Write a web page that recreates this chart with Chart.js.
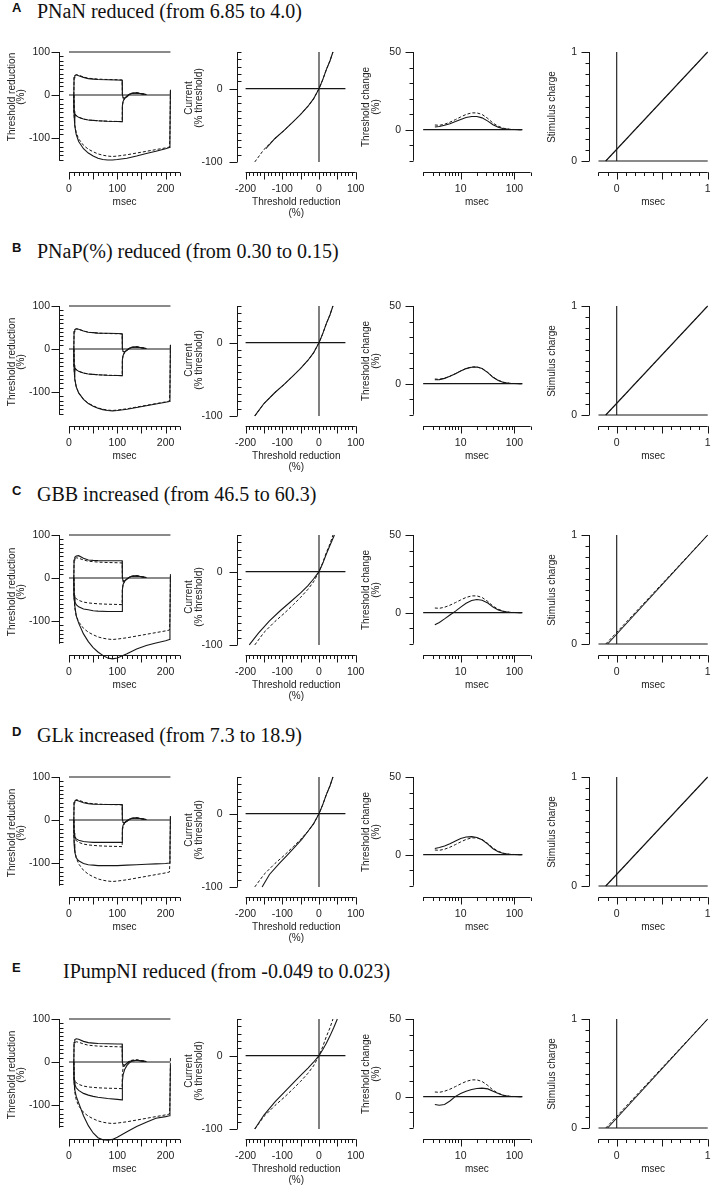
<!DOCTYPE html>
<html>
<head>
<meta charset="utf-8">
<script src="https://cdn.jsdelivr.net/npm/chart.js@4.4.1/dist/chart.umd.min.js"></script>
<style>
  html, body { margin: 0; padding: 0; background: #fff; }
  #page { position: relative; width: 720px; height: 1191px; overflow: hidden; background: #fff; }
  #page canvas { position: absolute; }
  .heading { position: absolute; left: 0; width: 720px; height: 24px; color: #111; white-space: nowrap; }
  .heading b { position: absolute; left: 12px; top: 0; line-height: 24px; font: bold 13px "Liberation Sans", Arial, sans-serif; }
  .heading span { position: absolute; top: 0; line-height: 24px; font: 20px "Liberation Serif", "Times New Roman", serif; }
</style>
</head>
<body>
<div id="page"></div>
<script>
// row headings
const rowLetters = ["A", "B", "C", "D", "E"];
const rowTitles = [
  "PNaN reduced (from 6.85 to 4.0)",
  "PNaP(%) reduced (from 0.30 to 0.15)",
  "GBB increased (from 46.5 to 60.3)",
  "GLk increased (from 7.3 to 18.9)",
  "IPumpNI reduced (from -0.049 to 0.023)",
];

// threshold electrotonus: 40% steps (100 ms) and -100% step (200 ms)
const teStepTime = [10, 10.5, 12, 15, 20, 30, 40, 50, 60, 80, 100, 110, 110.5, 112, 115, 120, 125, 130, 140, 150, 160];
const teLongTime = [10, 10.5, 12, 15, 20, 30, 40, 50, 60, 70, 80, 90, 100, 120, 140, 160, 180, 200, 208, 209, 210];
const teMarkTime = [0, 210];
const teMarkLevel = [100, 100];
const teBaseLevel = [0, 0];

const normD40 = [0, 40, 45, 47, 46, 42, 39, 38, 37, 36, 35.5, 35, 2, -6, -7, -3, 1, 3.5, 4.5, 3, 1];
const normH40 = [0, -38, -44, -48, -52, -56, -58, -59, -60, -61, -61.5, -62, -25, -15, -8, -2, 2, 4, 5, 3, 1];
const normH100 = [0, -45, -70, -88, -102, -117, -126, -132, -137, -140, -142, -143, -142, -139, -135, -131, -127, -123, -121, -95, 10];

const aD40 = [0, 40, 45, 47, 45, 41, 38, 37, 36, 35.5, 35, 34.5, 2, -7, -8, -4, 1, 3.5, 4.5, 3, 1];
const aH40 = [0, -38, -44, -48, -52, -56, -58, -59, -60, -61, -61.5, -62, -25, -15, -8, -2, 2, 4, 5, 3, 1];
const aH100 = [0, -45, -72, -92, -108, -125, -135, -142, -147, -150, -151, -151, -150, -147, -142, -136, -131, -125, -122, -95, 12];

const bD40 = [0, 40, 45, 47, 46, 42, 39, 38, 37, 36.5, 36, 35.5, 2, -6, -7, -3, 1, 3.5, 4.5, 3, 1];
const bH40 = [0, -38, -44, -48, -52, -56, -58, -59, -60, -61, -61.5, -62, -25, -15, -8, -2, 2, 4, 5, 3, 1];
const bH100 = [0, -45, -70, -88, -102, -117, -127, -133, -138, -141, -143, -144, -143, -140, -136, -132, -128, -124, -122, -95, 10];

const cD40 = [0, 42, 48, 51, 52, 46, 42, 41, 40.5, 40, 40, 40, 2, -8, -7, -2, 2, 4, 5, 3, 1];
const cH40 = [0, -45, -55, -62, -67, -72, -74, -76, -77, -78, -78, -78, -28, -15, -8, -2, 2, 4, 5, 3, 1];
const cH100 = [0, -40, -65, -88, -105, -130, -148, -162, -172, -180, -186, -188, -186, -176, -165, -157, -151, -146, -143, -100, 5];

const dD40 = [0, 40, 44, 46, 44, 40, 38, 37, 36.5, 36, 36, 36, 2, -6, -7, -3, 1, 3.5, 4.5, 3, 1];
const dH40 = [0, -30, -38, -44, -47, -50, -51, -52, -52, -52, -52, -52, -20, -12, -6, -1, 2, 4, 5, 3, 1];
const dH100 = [0, -55, -75, -88, -95, -101, -104, -105, -106, -106, -106, -106, -106, -105, -104, -103, -102, -101, -100, -75, 8];

const eD40 = [0, 45, 52, 54, 53, 48, 45, 44, 43, 42.5, 42, 42, 0, -10, -8, -3, 1, 3, 4, 3, 1];
const eH40 = [0, -42, -52, -60, -66, -73, -77, -80, -82, -85, -87, -88, -45, -30, -18, -8, -2, 2, 4, 2, 1];
const eH100 = [0, -45, -65, -80, -95, -125, -148, -165, -176, -181, -182, -180, -175, -162, -150, -140, -131, -127, -125, -90, -8];

// current-threshold relationship (threshold reduction % -> current % threshold)
const ivCrossX = [-200, 72];
const ivCrossY = [0, 0];
const ivNormX = [-175, -150, -120, -95, -70, -50, -30, -15, 0, 10, 20, 30, 38];
const ivNormY = [-100, -83, -68, -57, -45, -35, -24, -14, 0, 12, 26, 38, 50];
const ivAX = [-145, -120, -95, -70, -50, -30, -15, 0, 10, 20, 30, 38];
const ivAY = [-82, -68, -57, -45, -35, -24, -14, 0, 12, 26, 38, 50];
const ivBX = [-175, -150, -120, -95, -70, -50, -30, -15, 0, 10, 20, 30, 38];
const ivBY = [-100, -83, -68, -57, -45, -35, -24, -14, 0, 12, 26, 38, 50];
const ivCX = [-190, -165, -135, -105, -75, -50, -30, -15, 0, 10, 20, 30, 42];
const ivCY = [-100, -84, -67, -53, -40, -29, -19, -10, 0, 11, 24, 36, 50];
const ivDX = [-155, -135, -108, -87, -65, -47, -30, -15, 0, 10, 20, 30, 38];
const ivDY = [-100, -83, -68, -57, -45, -35, -24, -14, 0, 12, 26, 38, 50];
const ivEX = [-175, -150, -120, -95, -70, -50, -30, -15, 0, 10, 20, 30, 40, 50];
const ivEY = [-100, -81, -63, -50, -37, -27, -17, -9, 0, 8, 17, 27, 38, 50];

// recovery cycle (log msec -> threshold change %)
const rcBaseX = [2, 140];
const rcBaseY = [0, 0];
const rcDelay = [3.3, 4, 5, 6.3, 8, 10, 12.6, 16, 20, 25, 32, 40, 50, 63, 80, 100, 126, 140];
const rcNorm = [3, 2.8, 3.5, 4.8, 6.5, 8.2, 9.8, 10.8, 10.8, 9.8, 7.2, 4.2, 2.2, 0.9, 0.3, 0.1, 0, 0];
const rcA = [1.7, 2, 2.8, 3.8, 5.2, 6.6, 7.8, 8.5, 8.5, 7.6, 5.5, 3.2, 1.6, 0.6, 0.2, 0.1, 0, 0];
const rcB = [2.5, 2.6, 3.4, 4.7, 6.4, 8.1, 9.7, 10.6, 10.7, 9.7, 7.1, 4.1, 2.1, 0.8, 0.3, 0.1, 0, 0];
const rcC = [-7.8, -6.3, -4, -1.5, 1, 3.6, 6, 7.8, 8.5, 8, 6.2, 3.6, 1.8, 0.7, 0.2, 0.1, 0, 0];
const rcD = [4, 4.6, 5.6, 7, 8.8, 10.4, 11.4, 11.6, 11, 9.6, 6.8, 3.8, 1.9, 0.8, 0.3, 0.1, 0, 0];
const rcE = [-5, -5.5, -5, -2.8, 0.2, 2, 3.5, 4.6, 5.3, 5.5, 5, 3.5, 2, 0.8, 0.3, 0.1, 0, 0];

// charge-duration (msec -> stimulus charge)
const qtBaseX = [-0.2, 1];
const qtBaseY = [0, 0];
const qtVertX = [0, 0];
const qtVertY = [0, 1];
const qtNormX = [-0.12, 1];
const qtNormY = [0, 1];
const qtRowStart = [-0.12, -0.12, -0.1, -0.12, -0.1];

// tick labels
const teYLabels = [100, 0, -100];
const teXLabels = [0, 100, 200];
const ivYLabels = [0, -100];
const ivXLabels = [-200, -100, 0, 100];
const rcYLabels = [50, 0];
const rcXLabels = [10, 100];
const qtYLabels = [0, 1];
const qtXLabels = [0, 1];

const rowTE = [[aD40, aH40, aH100], [bD40, bH40, bH100], [cD40, cH40, cH100], [dD40, dH40, dH100], [eD40, eH40, eH100]];
const rowIV = [[ivAX, ivAY], [ivBX, ivBY], [ivCX, ivCY], [ivDX, ivDY], [ivEX, ivEY]];
const rowRC = [rcA, rcB, rcC, rcD, rcE];

// layout
const rowTops = [52, 306, 535, 777, 1019];
const headingMid = [12, 252, 495, 736, 972];
const headingLeft = [37, 37, 37, 37, 63];
const teTitleOffset = [45, 56, 57, 56, 56];
const ivTitleOffset = [46, 54, 62, 53, 52];

const INK = "#161616";
const TEXT = "#222";
const TICK_FONT = '10.5px "Liberation Sans", Arial, sans-serif';
const TITLE_FONT = '10px "Liberation Sans", Arial, sans-serif';

const page = document.getElementById("page");

function range(a, b, step) {
  const out = [];
  for (let v = a; v <= b + 1e-9; v += step) out.push(Math.round(v * 1000) / 1000);
  return out;
}

function pts(xs, ys) {
  return xs.map((x, i) => ({ x, y: ys[i] }));
}

function solid(xs, ys) {
  return { data: pts(xs, ys), borderColor: INK, borderWidth: 1.1, pointRadius: 0, clip: false, tension: 0 };
}

function dashed(xs, ys) {
  return { ...solid(xs, ys), borderWidth: 1, borderDash: [3, 2] };
}

// detached axes in the style of the original figure
function paperAxes(o) {
  return {
    id: "paperAxes",
    afterDatasetsDraw(chart) {
      const ctx = chart.ctx;
      const sx = chart.scales.x;
      const sy = chart.scales.y;
      const px = (v) => sx.getPixelForValue(v);
      const py = (v) => sy.getPixelForValue(v);
      const seg = (x1, y1, x2, y2) => {
        ctx.beginPath();
        ctx.moveTo(x1, y1);
        ctx.lineTo(x2, y2);
        ctx.stroke();
      };
      ctx.save();
      ctx.strokeStyle = INK;
      ctx.fillStyle = TEXT;
      ctx.lineWidth = 1;

      // y axis
      const ax = Math.round(px(o.y.at)) + 0.5;
      seg(ax, py(o.y.from), ax, py(o.y.to));
      o.y.minor.forEach((v) => {
        const y = Math.round(py(v)) + 0.5;
        seg(ax, y, ax + o.y.minorDir * 4, y);
      });
      o.y.major.forEach((v) => {
        const y = Math.round(py(v)) + 0.5;
        seg(ax, y, ax - 8, y);
      });
      ctx.font = TICK_FONT;
      ctx.textAlign = "right";
      ctx.textBaseline = "middle";
      o.y.labels.forEach((v) => ctx.fillText(String(v), ax - o.y.labelGap, py(v)));

      // x axis
      const ay = Math.round(py(o.x.at)) + 0.5;
      seg(px(o.x.from), ay, px(o.x.to), ay);
      o.x.minor.forEach((v) => {
        const x = Math.round(px(v)) + 0.5;
        seg(x, ay, x, ay + 3.5);
      });
      o.x.major.forEach((v) => {
        const x = Math.round(px(v)) + 0.5;
        seg(x, ay, x, ay + 7);
      });
      ctx.textAlign = "center";
      o.x.labels.forEach((v) => ctx.fillText(String(v), px(v), ay + 17));

      // titles
      ctx.font = TITLE_FONT;
      o.x.title.forEach((t, i) => ctx.fillText(t, px(o.x.titleAt), ay + 30 + i * 11));
      const midY = py(o.y.to) + o.y.titleOffset;
      o.y.title.forEach((t, i) => {
        ctx.save();
        ctx.translate(ax + o.y.titleX[i], midY);
        ctx.rotate(-Math.PI / 2);
        ctx.fillText(t, 0, 0);
        ctx.restore();
      });
      ctx.restore();
    },
  };
}

function makePanel(box, area, xScale, yScale, datasets, axes) {
  const cv = document.createElement("canvas");
  cv.width = box.w;
  cv.height = box.h;
  cv.style.left = box.left + "px";
  cv.style.top = box.top + "px";
  cv.style.width = box.w + "px";
  cv.style.height = box.h + "px";
  page.appendChild(cv);
  new Chart(cv.getContext("2d"), {
    type: "scatter",
    data: { datasets: datasets.map((d) => ({ ...d, showLine: true })) },
    options: {
      responsive: false,
      animation: false,
      events: [],
      layout: {
        padding: {
          left: area.l - box.left,
          right: box.left + box.w - area.r,
          top: area.t - box.top,
          bottom: box.top + box.h - area.b,
        },
      },
      scales: {
        x: { ...xScale, display: false },
        y: { type: "linear", ...yScale, display: false },
      },
      plugins: { legend: { display: false }, tooltip: { enabled: false } },
    },
    plugins: [paperAxes(axes)],
  });
}

// headings
rowLetters.forEach((letter, r) => {
  const d = document.createElement("div");
  d.className = "heading";
  d.style.top = headingMid[r] - 12 + "px";
  const b = document.createElement("b");
  b.textContent = letter;
  const s = document.createElement("span");
  s.style.left = headingLeft[r] + "px";
  s.textContent = rowTitles[r];
  d.appendChild(b);
  d.appendChild(s);
  page.appendChild(d);
});

rowTops.forEach((ty, r) => {
  const top = ty - 20;
  const h = 190;

  // threshold electrotonus
  const [d40, h40, h100] = rowTE[r];
  makePanel(
    { left: 0, top, w: 195, h },
    { l: 59.34, r: 180.09, t: ty, b: ty + 133.3 },
    { type: "linear", min: -20, max: 230 },
    { min: -210, max: 100 },
    [
      solid(teStepTime, d40), solid(teStepTime, h40), solid(teLongTime, h100),
      dashed(teStepTime, normD40), dashed(teStepTime, normH40), dashed(teLongTime, normH100),
      solid(teMarkTime, teMarkLevel), solid(teMarkTime, teBaseLevel),
    ],
    {
      y: { at: -20, from: -153, to: 100, minor: range(-150, 100, 10).filter((v) => !teYLabels.includes(v)),
        major: teYLabels, labels: teYLabels, minorDir: 1, labelGap: 9.5,
        title: ["Threshold reduction", "(%)"], titleX: [-47.5, -38.5], titleOffset: teTitleOffset[r] },
      x: { at: -179, from: 0, to: 230, minor: range(0, 230, 10), major: [0, 50, 100, 150, 200],
        labels: teXLabels, title: ["msec"], titleAt: 115 },
    }
  );

  // current-threshold
  const [ivx, ivy] = rowIV[r];
  makePanel(
    { left: 180, top, w: 190, h },
    { l: 230.92, r: 359.37, t: ty - 7.33, b: ty + 117.28 },
    { type: "linear", min: -240, max: 110 },
    { min: -110, max: 60 },
    [
      solid(ivx, ivy), dashed(ivNormX, ivNormY),
      solid(ivCrossX, ivCrossY), solid([0, 0], [-100, 50]),
    ],
    {
      y: { at: -223, from: -100, to: 50, minor: range(-100, 50, 10).filter((v) => !ivYLabels.includes(v)),
        major: ivYLabels, labels: ivYLabels, minorDir: 1, labelGap: 15,
        title: ["Current", "(% threshold)"], titleX: [-48, -38], titleOffset: ivTitleOffset[r] },
      x: { at: -113.7, from: -200, to: 100, minor: range(-200, 100, 10), major: range(-200, 100, 50),
        labels: ivXLabels, title: ["Threshold reduction", "(%)"], titleAt: -62 },
    }
  );

  // recovery cycle
  makePanel(
    { left: 355, top, w: 190, h },
    { l: 412.2, r: 535.77, t: ty - 7.77, b: ty + 116.5 },
    { type: "logarithmic", min: 1.25, max: 250 },
    { min: -25, max: 55 },
    [
      solid(rcDelay, rowRC[r]), dashed(rcDelay, rcNorm),
      solid(rcBaseX, rcBaseY),
    ],
    {
      y: { at: 1.28, from: -20, to: 50, minor: range(-20, 50, 10).filter((v) => !rcYLabels.includes(v)),
        major: rcYLabels, labels: rcYLabels, minorDir: -1, labelGap: 12.5,
        title: ["Threshold change", "(%)"], titleX: [-47.5, -37], titleOffset: 55 },
      x: { at: -27.27, from: 2, to: 200, minor: [2, 3, 4, 5, 6, 7, 8, 9, 20, 30, 40, 50, 60, 70, 80, 90, 200],
        major: [10, 100], labels: rcXLabels, title: ["msec"], titleAt: 20 },
    }
  );

  // charge-duration
  makePanel(
    { left: 540, top, w: 180, h },
    { l: 589.4, r: 712.25, t: ty - 5.45, b: ty + 114.45 },
    { type: "linear", min: -0.3, max: 1.05 },
    { min: -0.05, max: 1.05 },
    [
      solid([qtRowStart[r], 1], [0, 1]), dashed(qtNormX, qtNormY),
      solid(qtBaseX, qtBaseY), solid(qtVertX, qtVertY),
    ],
    {
      y: { at: -0.3, from: 0, to: 1, minor: range(0.1, 0.9, 0.1), major: [0, 1],
        labels: qtYLabels, minorDir: -1, labelGap: 12.5,
        title: ["Stimulus charge"], titleX: [-37.5], titleOffset: 55 },
      x: { at: -0.101, from: -0.2, to: 1, minor: range(-0.2, 1, 0.1), major: [0, 0.5, 1],
        labels: qtXLabels, title: ["msec"], titleAt: 0.4 },
    }
  );
});
</script>
</body>
</html>
